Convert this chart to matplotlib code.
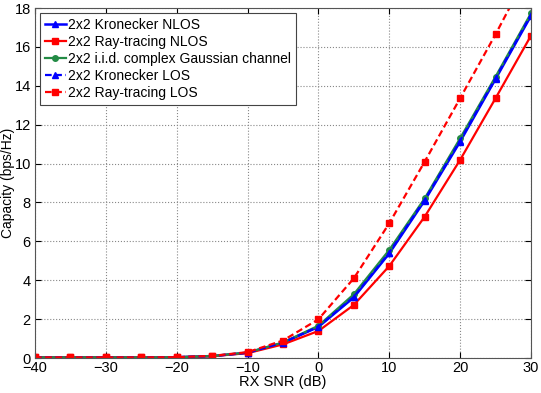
"""Ergodic capacity vs RX SNR for 2x2 channel models (MATLAB-style figure)."""
import matplotlib.pyplot as plt

SNR_DB = [-40, -35, -30, -25, -20, -15, -10, -5, 0, 5, 10, 15, 20, 25, 30]

KRON_NLOS = [0.03, 0.03, 0.03, 0.03, 0.04, 0.10, 0.27, 0.78, 1.60, 3.12, 5.38, 8.10, 11.13, 14.35, 17.60]
RAY_NLOS = [0.03, 0.03, 0.03, 0.03, 0.04, 0.09, 0.25, 0.70, 1.39, 2.73, 4.73, 7.27, 10.19, 13.36, 16.58]
IID = [0.03, 0.03, 0.03, 0.03, 0.04, 0.10, 0.28, 0.80, 1.66, 3.28, 5.56, 8.21, 11.30, 14.47, 17.73]
KRON_LOS = [0.03, 0.03, 0.03, 0.03, 0.04, 0.10, 0.27, 0.79, 1.62, 3.15, 5.42, 8.15, 11.18, 14.40, 17.65]
RAY_LOS = [0.03, 0.03, 0.03, 0.03, 0.04, 0.11, 0.30, 0.90, 1.99, 4.10, 6.93, 10.10, 13.36, 16.65, 20.10]

LABELS = ["2x2 Kronecker NLOS", "2x2 Ray-tracing NLOS",
          "2x2 i.i.d. complex Gaussian channel", "2x2 Kronecker LOS",
          "2x2 Ray-tracing LOS"]

plt.rcParams["font.family"] = ["Liberation Sans", "DejaVu Sans"]

fig = plt.figure(figsize=(5.41, 3.93), dpi=100)
ax = fig.add_axes([35 / 541, 35 / 393, 496 / 541, 350 / 393])

blue, red, green = "#0000ff", "#ff0000", "#238b45"
dash = (3, 1.6)
ax.plot(SNR_DB, KRON_NLOS, "-", color=blue, lw=1.8, marker="^", ms=5, label=LABELS[0])
ax.plot(SNR_DB, RAY_NLOS, "-", color=red, lw=1.6, marker="s", ms=5, label=LABELS[1])
ax.plot(SNR_DB, IID, "-", color=green, lw=1.6, marker="o", ms=4, label=LABELS[2])
ax.plot(SNR_DB, KRON_LOS, color=blue, lw=1.6, dashes=dash, marker="^", ms=5, label=LABELS[3])
ax.plot(SNR_DB, RAY_LOS, color=red, lw=1.6, dashes=dash, marker="s", ms=5, label=LABELS[4])

ax.set_xlim(-40, 30)
ax.set_ylim(0, 18)
ax.set_xticks(range(-40, 31, 10))
ax.set_yticks(range(0, 19, 2))
ax.tick_params(direction="in", labelsize=10.5, length=4, top=True, right=True)
ax.tick_params(axis="y", pad=3)
ax.tick_params(axis="x", pad=2)
ax.grid(True, linestyle=":", color="#888888", lw=0.8)
for s in ax.spines.values():
    s.set_color("#555555")

ax.set_xlabel("RX SNR (dB)", fontsize=10.5, labelpad=0)
ax.set_ylabel("Capacity (bps/Hz)", fontsize=10)
ax.yaxis.set_label_coords(-0.041, 0.5)

leg = ax.legend(loc="upper left", fontsize=10, fancybox=False, framealpha=1,
                edgecolor="#444444", handlelength=1.5, handletextpad=0.2,
                borderpad=0.35, labelspacing=0.22, borderaxespad=0.35)
leg.get_frame().set_linewidth(0.8)

fig.savefig("out.png", dpi=100)
